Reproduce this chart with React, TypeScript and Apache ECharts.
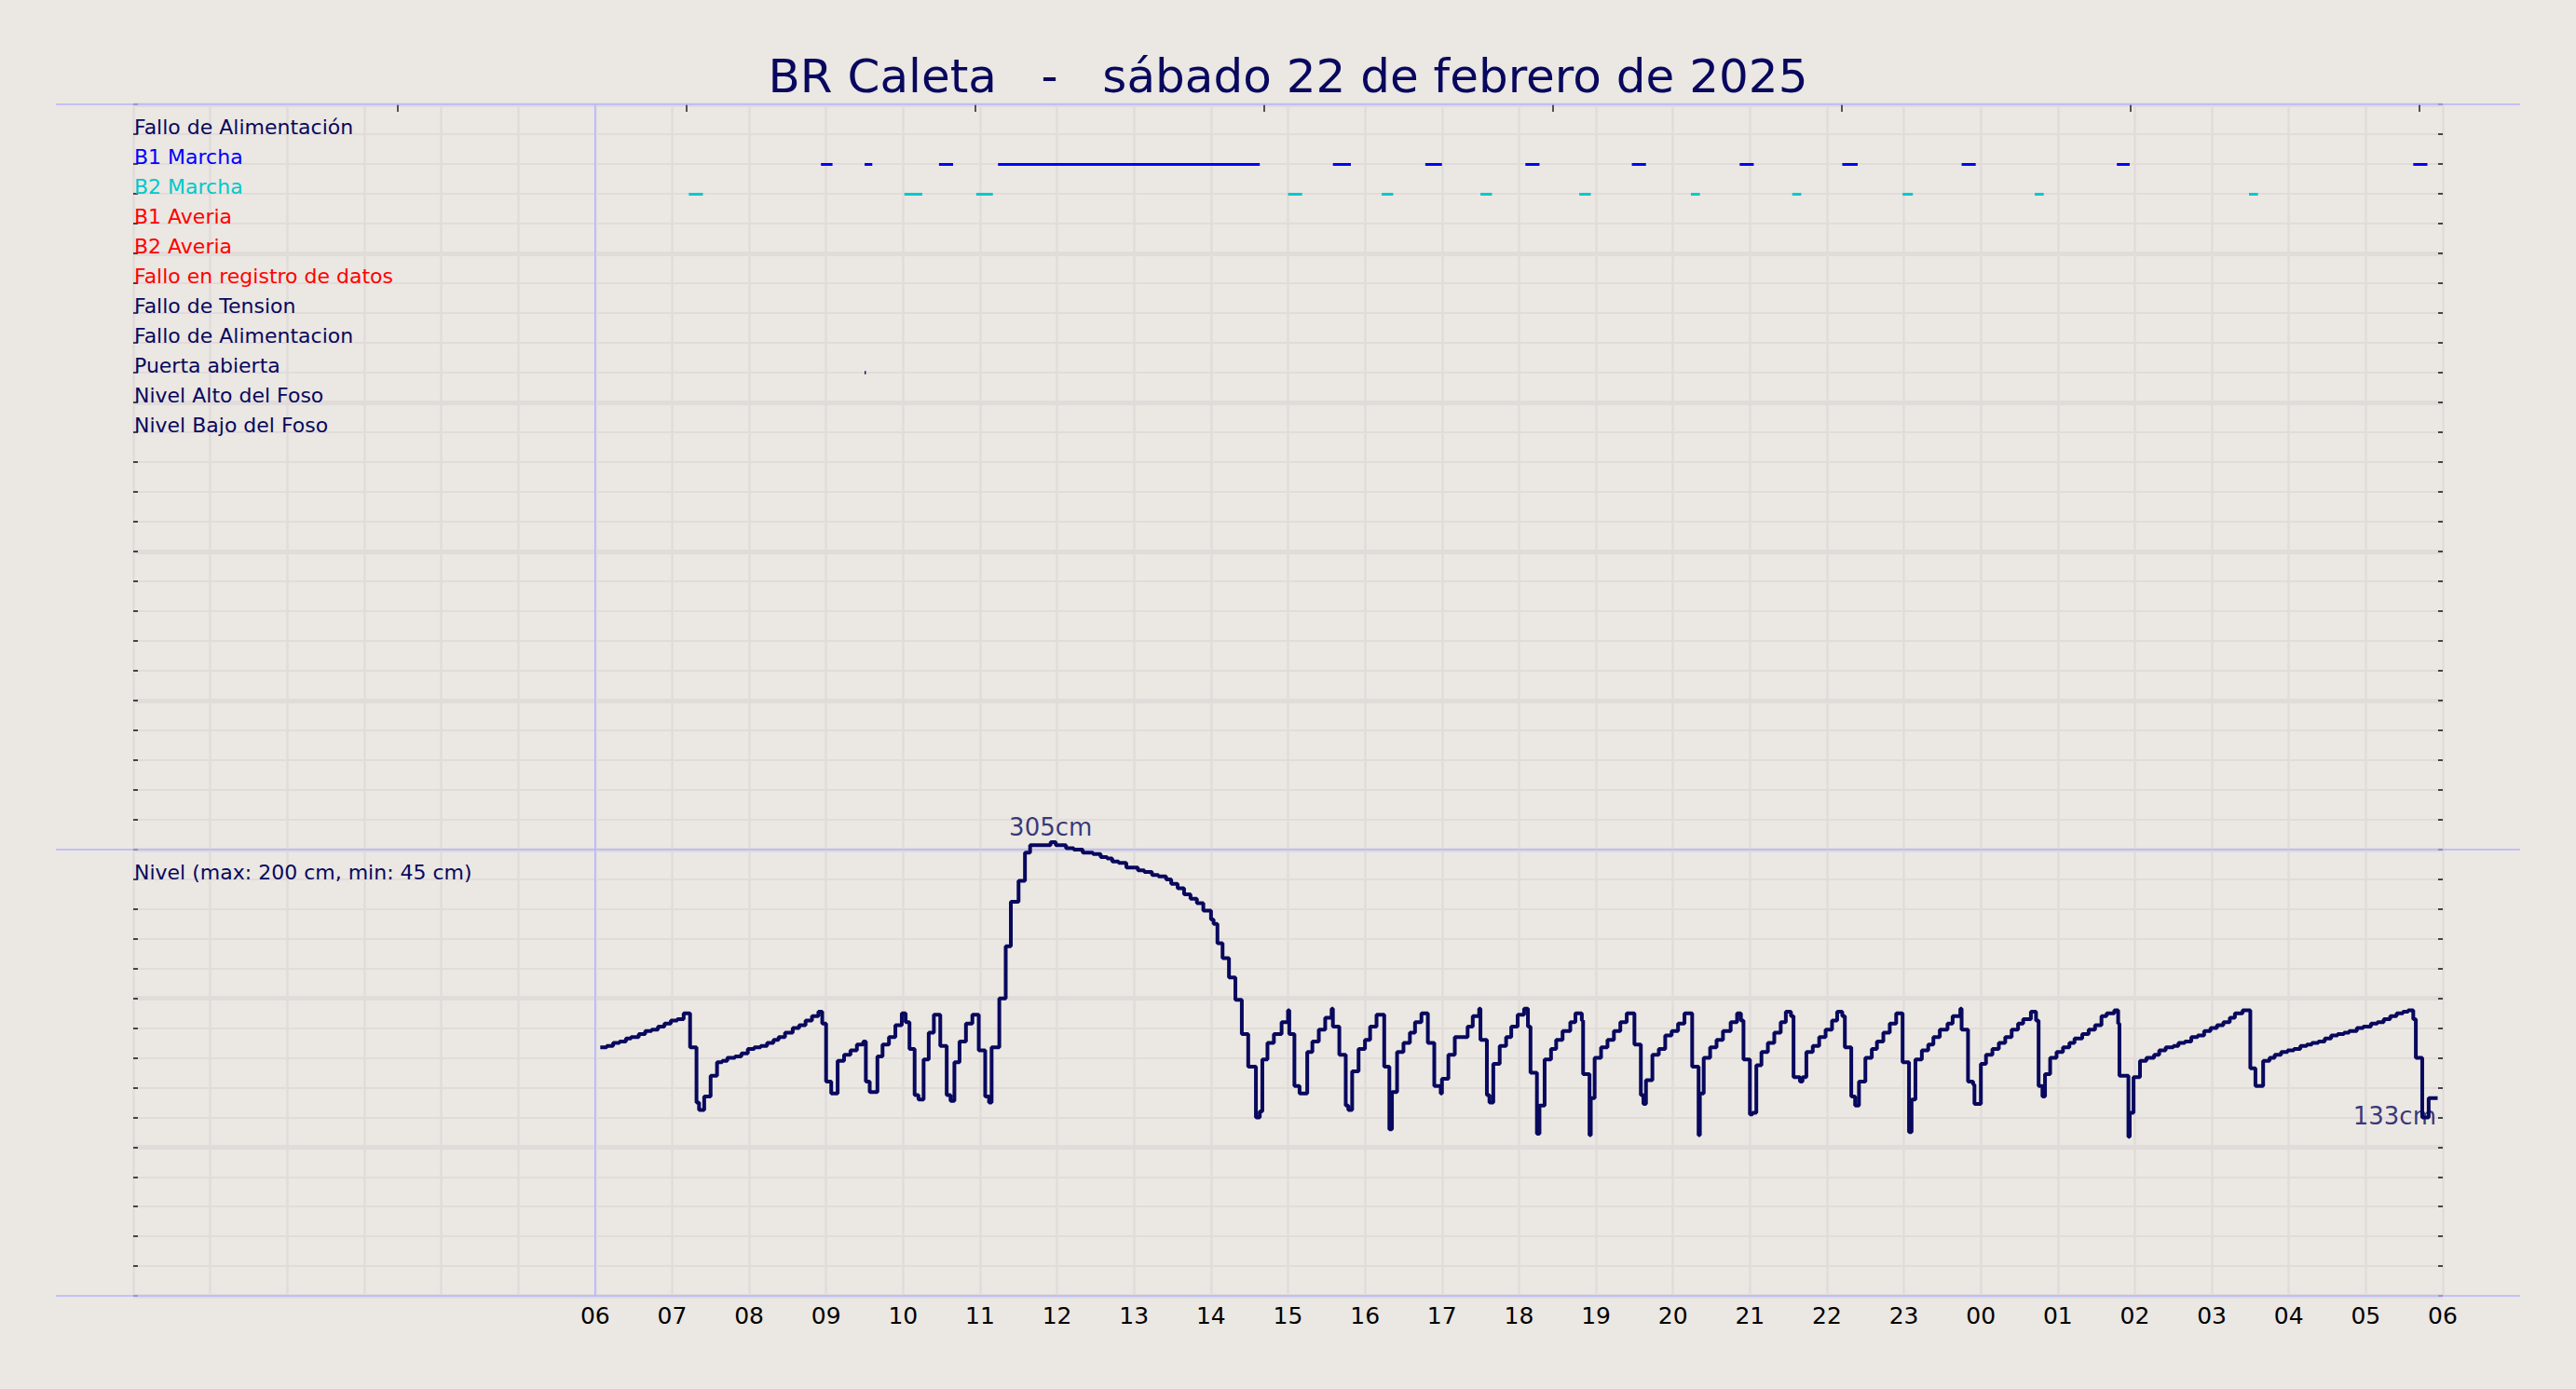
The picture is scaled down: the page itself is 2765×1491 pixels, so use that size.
import React, { useEffect, useRef } from "react";
import * as echarts from "echarts";

const titleText = "BR Caleta   -   sábado 22 de febrero de 2025";

// top panel rows (one per gridline, from the top)
const rowLabels = [
  "Fallo de Alimentación",
  "B1 Marcha",
  "B2 Marcha",
  "B1 Averia",
  "B2 Averia",
  "Fallo en registro de datos",
  "Fallo de Tension",
  "Fallo de Alimentacion",
  "Puerta abierta",
  "Nivel Alto del Foso",
  "Nivel Bajo del Foso",
];
const levelRowLabel = "Nivel (max: 200 cm, min: 45 cm)";

const hourLabels = [
  "06", "07", "08", "09", "10", "11", "12", "13", "14", "15", "16", "17", "18",
  "19", "20", "21", "22", "23", "00", "01", "02", "03", "04", "05", "06",
];

// pump runs and alarms (start, end)
const b1Runs = [
  ["08:56", "09:05"], ["09:30", "09:36"], ["10:28", "10:39"], ["11:14", "14:38"],
  ["15:35", "15:49"], ["16:47", "17:00"], ["18:05", "18:16"], ["19:28", "19:39"],
  ["20:52", "21:03"], ["22:12", "22:24"], ["23:45", "23:56"], ["01:46", "01:56"],
  ["05:37", "05:48"],
];
const b2Runs = [
  ["07:13", "07:24"], ["10:01", "10:15"], ["10:57", "11:10"], ["15:00", "15:11"],
  ["16:13", "16:22"], ["17:30", "17:39"], ["18:47", "18:56"], ["20:14", "20:21"],
  ["21:33", "21:40"], ["22:59", "23:07"], ["00:42", "00:49"], ["03:29", "03:36"],
];
const doorOpen = [["09:30", "09:31"]];

// pit level, cm, at each change
const levelTimes = [
  "06:04", "06:09", "06:14", "06:19", "06:24", "06:28", "06:34", "06:39", "06:44", "06:49",
  "06:54", "06:59", "07:04", "07:09", "07:14", "07:19", "07:21", "07:25", "07:30", "07:35",
  "07:39", "07:43", "07:49", "07:54", "07:59", "08:04", "08:09", "08:14", "08:19", "08:23",
  "08:28", "08:34", "08:39", "08:44", "08:49", "08:54", "08:57", "09:00", "09:04", "09:09",
  "09:14", "09:19", "09:24", "09:29", "09:31", "09:34", "09:40", "09:44", "09:49", "09:54",
  "09:59", "10:02", "10:05", "10:09", "10:12", "10:16", "10:20", "10:24", "10:29", "10:34",
  "10:37", "10:40", "10:44", "10:49", "10:54", "10:59", "11:04", "11:07", "11:09", "11:15",
  "11:20", "11:24", "11:30", "11:35", "11:39", "11:55", "11:59", "12:07", "12:13", "12:20",
  "12:28", "12:34", "12:39", "12:43", "12:48", "12:54", "13:03", "13:08", "13:14", "13:19",
  "13:25", "13:29", "13:34", "13:39", "13:44", "13:49", "13:54", "14:00", "14:02", "14:05",
  "14:09", "14:14", "14:19", "14:24", "14:29", "14:35", "14:38", "14:40", "14:44", "14:49",
  "14:55", "15:00", "15:01", "15:05", "15:09", "15:15", "15:19", "15:24", "15:29", "15:34",
  "15:35", "15:40", "15:45", "15:47", "15:50", "15:55", "16:00", "16:04", "16:09", "16:15",
  "16:19", "16:21", "16:25", "16:30", "16:35", "16:39", "16:44", "16:49", "16:54", "16:59",
  "17:00", "17:05", "17:10", "17:20", "17:24", "17:29", "17:30", "17:35", "17:37", "17:40",
  "17:45", "17:50", "17:54", "17:59", "18:04", "18:07", "18:09", "18:14", "18:16", "18:20",
  "18:25", "18:29", "18:34", "18:40", "18:44", "18:49", "18:50", "18:55", "18:56", "18:59",
  "19:04", "19:09", "19:14", "19:19", "19:24", "19:30", "19:35", "19:37", "19:39", "19:44",
  "19:49", "19:54", "19:59", "20:04", "20:09", "20:15", "20:20", "20:21", "20:24", "20:29",
  "20:34", "20:39", "20:45", "20:50", "20:53", "20:55", "21:00", "21:02", "21:05", "21:09",
  "21:14", "21:19", "21:24", "21:28", "21:32", "21:34", "21:39", "21:41", "21:44", "21:49",
  "21:54", "21:59", "22:04", "22:08", "22:12", "22:14", "22:19", "22:22", "22:25", "22:30",
  "22:35", "22:39", "22:44", "22:49", "22:54", "22:59", "23:04", "23:06", "23:09", "23:14",
  "23:19", "23:23", "23:28", "23:34", "23:38", "23:44", "23:45", "23:50", "23:54", "23:55",
  "00:00", "00:04", "00:09", "00:14", "00:19", "00:24", "00:29", "00:33", "00:39", "00:43",
  "00:45", "00:48", "00:50", "00:54", "00:59", "01:04", "01:09", "01:13", "01:19", "01:24",
  "01:29", "01:34", "01:38", "01:44", "01:47", "01:48", "01:55", "01:56", "01:59", "02:04",
  "02:09", "02:15", "02:19", "02:24", "02:30", "02:34", "02:39", "02:44", "02:49", "02:54",
  "02:59", "03:04", "03:09", "03:14", "03:18", "03:24", "03:30", "03:34", "03:40", "03:45",
  "03:49", "03:54", "03:59", "04:04", "04:09", "04:14", "04:18", "04:23", "04:28", "04:33",
  "04:38", "04:43", "04:47", "04:53", "04:58", "05:04", "05:09", "05:14", "05:19", "05:24",
  "05:29", "05:33", "05:37", "05:39", "05:44", "05:49", "05:56",
];
const levelCm = [
  167, 168, 170, 171, 173, 174, 176, 178, 179, 181,
  183, 185, 186, 190, 167, 130, 125, 134, 148, 157,
  158, 160, 161, 163, 166, 167, 168, 170, 172, 174,
  177, 180, 182, 185, 188, 191, 183, 144, 136, 158,
  162, 165, 169, 171, 144, 137, 161, 169, 174, 182,
  190, 184, 166, 135, 132, 159, 177, 189, 168, 135,
  131, 157, 171, 183, 189, 165, 134, 130, 167, 200,
  235, 265, 279, 298, 303, 305, 303, 301, 300, 298,
  297, 295, 294, 292, 291, 288, 286, 285, 283, 282,
  280, 277, 274, 270, 267, 264, 259, 253, 250, 237,
  227, 214, 199, 176, 154, 120, 124, 159, 170, 176,
  184, 192, 176, 141, 136, 164, 171, 179, 187, 193,
  181, 162, 128, 125, 151, 166, 172, 181, 189, 154,
  112, 137, 164, 170, 177, 184, 190, 170, 141, 136,
  146, 162, 174, 181, 188, 193, 172, 135, 130, 156,
  168, 174, 181, 189, 193, 181, 150, 109, 128, 159,
  166, 172, 178, 184, 190, 185, 149, 108, 133, 160,
  167, 172, 178, 184, 190, 169, 135, 129, 145, 162,
  166, 175, 178, 183, 190, 154, 108, 136, 160, 167,
  172, 178, 184, 190, 185, 159, 122, 123, 155, 164,
  170, 177, 184, 191, 188, 147, 144, 147, 164, 168,
  174, 179, 185, 191, 188, 167, 134, 128, 144, 160,
  166, 171, 177, 183, 190, 157, 110, 132, 159, 165,
  169, 174, 179, 183, 188, 193, 179, 144, 142, 129,
  156, 162, 166, 170, 174, 179, 183, 186, 191, 185,
  141, 134, 149, 160, 164, 167, 170, 173, 176, 179,
  182, 188, 190, 192, 183, 148, 107, 123, 147, 158,
  160, 162, 165, 167, 168, 170, 171, 174, 175, 178,
  180, 182, 184, 187, 190, 192, 153, 141, 158, 160,
  162, 164, 165, 166, 168, 169, 170, 171, 173, 175,
  176, 177, 178, 180, 181, 183, 184, 186, 188, 190,
  191, 192, 186, 160, 120, 133, 133,
];

const NAVY = "#08085e";
const BLUE = "#0000ff";
const CYAN = "#00c8cc";
const RED = "#ff0000";
const PURPLE = "#b4b4ff";
const GRID = "#e1dcda";
const BG = "#ebe7e2";
const FONT = "DejaVu Sans";
const rowColors: Record<string, string> = {
  "B1 Marcha": BLUE,
  "B2 Marcha": CYAN,
  "B1 Averia": RED,
  "B2 Averia": RED,
  "Fallo en registro de datos": RED,
};

// layout of the two panels, px
const PLOT_LEFT = 143;
const PLOT_RIGHT = 2622;
const TOP = 112;
const MID = 912;
const BOTTOM = 1391;

// minutes from 00:00 of the first day; hours before 06 belong to the next day
const toMinutes = (t: string) => {
  const [h, m] = t.split(":").map(Number);
  return (h < 6 ? h + 24 : h) * 60 + m;
};

const hiddenAxis = {
  axisLine: { show: false, onZero: false },
  axisTick: { show: false },
  axisLabel: { show: false },
  splitLine: { show: false },
};

const App: React.FC = () => {
  const chartRef = useRef<HTMLDivElement | null>(null);

  useEffect(() => {
    if (!chartRef.current) return;
    const chart = echarts.init(chartRef.current, undefined, { renderer: "svg" });

    const rowOf = (name: string) => rowLabels.indexOf(name) + 1;
    const runData = (runs: string[][], row: number) =>
      runs.map(([a, b]) => ({ coords: [[toMinutes(a), row], [toMinutes(b), row]] }));

    const levelData = levelTimes.map((t, i) => [toMinutes(t), levelCm[i]]);
    const maxIdx = levelCm.indexOf(Math.max(...levelCm));
    const lastIdx = levelCm.length - 1;

    const rowsAxis = (grid: number, rows: number, labelOf: (v: number) => string) => [
      {
        gridIndex: grid,
        type: "value",
        inverse: true,
        min: 0,
        max: rows,
        interval: 1,
        axisLine: { show: false, onZero: false },
        axisTick: { show: true, inside: true, length: 5, lineStyle: { color: "#111", width: 1.5 } },
        axisLabel: {
          show: true,
          inside: true,
          margin: 1,
          align: "left",
          verticalAlign: "bottom",
          lineHeight: 15,
          fontSize: 22,
          fontFamily: FONT,
          formatter: (v: number) => labelOf(v),
          color: (v: any) => rowColors[labelOf(Number(v))] || NAVY,
        },
        splitLine: { show: true, lineStyle: { color: GRID, width: 2 } },
      },
      {
        gridIndex: grid,
        type: "value",
        inverse: true,
        min: 0,
        max: rows,
        interval: 5,
        ...hiddenAxis,
        splitLine: { show: true, lineStyle: { color: GRID, width: 5 } },
      },
      {
        gridIndex: grid,
        type: "value",
        position: "right",
        inverse: true,
        min: 0,
        max: rows,
        interval: 1,
        ...hiddenAxis,
        axisTick: { show: true, inside: true, length: 5, lineStyle: { color: "#111", width: 1.5 } },
      },
    ];

    const hourAxis = (grid: number, labels: boolean) => ({
      gridIndex: grid,
      type: "value",
      min: 0,
      max: 1800,
      interval: 60,
      axisLine: { show: false, onZero: false },
      axisTick: { show: false },
      axisLabel: {
        show: labels,
        margin: 9,
        fontSize: 25,
        color: "#000",
        fontFamily: FONT,
        formatter: (v: number) => (v >= 360 ? hourLabels[(v - 360) / 60] : ""),
      },
      splitLine: { show: true, lineStyle: { color: GRID, width: 2.5 } },
    });

    const frameLine = (y: number) => ({
      type: "line",
      z: 1,
      silent: true,
      shape: { x1: 60, y1: y, x2: 2705, y2: y },
      style: { stroke: PURPLE, lineWidth: 1.5 },
    });

    const options = {
      animation: false,
      backgroundColor: BG,
      textStyle: { fontFamily: FONT },
      title: {
        text: titleText,
        left: "center",
        top: 52,
        textStyle: { fontSize: 50, fontWeight: "normal", color: NAVY, fontFamily: FONT },
      },
      grid: [
        { left: PLOT_LEFT, top: TOP, width: PLOT_RIGHT - PLOT_LEFT, height: MID - TOP },
        { left: PLOT_LEFT, top: MID, width: PLOT_RIGHT - PLOT_LEFT, height: BOTTOM - MID },
        // thin band just above the top panel, its axis ticks hang down into it
        { left: 427, top: TOP - 12, width: 2170, height: 12 },
      ],
      xAxis: [
        hourAxis(0, false),
        hourAxis(1, true),
        {
          gridIndex: 2,
          type: "value",
          position: "bottom",
          min: 0,
          max: 7,
          interval: 1,
          ...hiddenAxis,
          axisTick: { show: true, inside: false, length: 8, lineStyle: { color: "#222", width: 1.5 } },
        },
      ],
      yAxis: [
        ...rowsAxis(0, 25, (v) => rowLabels[v - 1] || ""),
        ...rowsAxis(1, 15, (v) => (v === 1 ? levelRowLabel : "")),
        { gridIndex: 1, type: "value", min: 0, max: 300, show: false },
        { gridIndex: 2, type: "value", min: 0, max: 1, show: false },
      ],
      graphic: [frameLine(TOP), frameLine(MID), frameLine(BOTTOM)],
      series: [
        {
          name: "Inicio del día",
          type: "line",
          xAxisIndex: 0,
          yAxisIndex: 0,
          data: [[360, 0], [360, 25]],
          showSymbol: false,
          silent: true,
          lineStyle: { color: PURPLE, width: 1.5 },
        },
        {
          name: "Inicio del día (nivel)",
          type: "line",
          xAxisIndex: 1,
          yAxisIndex: 3,
          data: [[360, 0], [360, 15]],
          showSymbol: false,
          silent: true,
          lineStyle: { color: PURPLE, width: 1.5 },
        },
        {
          name: "B1 Marcha",
          type: "lines",
          coordinateSystem: "cartesian2d",
          xAxisIndex: 0,
          yAxisIndex: 0,
          data: runData(b1Runs, rowOf("B1 Marcha")),
          lineStyle: { color: BLUE, width: 3, opacity: 1 },
        },
        {
          name: "B2 Marcha",
          type: "lines",
          coordinateSystem: "cartesian2d",
          xAxisIndex: 0,
          yAxisIndex: 0,
          data: runData(b2Runs, rowOf("B2 Marcha")),
          lineStyle: { color: CYAN, width: 3, opacity: 1 },
        },
        {
          name: "Puerta abierta",
          type: "lines",
          coordinateSystem: "cartesian2d",
          xAxisIndex: 0,
          yAxisIndex: 0,
          data: runData(doorOpen, rowOf("Puerta abierta")),
          lineStyle: { color: NAVY, width: 3.5, opacity: 1 },
        },
        {
          name: "Nivel",
          type: "line",
          step: "end",
          xAxisIndex: 1,
          yAxisIndex: 6,
          data: levelData,
          showSymbol: false,
          clip: false,
          lineStyle: { color: NAVY, width: 4 },
        },
        {
          name: "Nivel notas",
          type: "scatter",
          xAxisIndex: 1,
          yAxisIndex: 6,
          symbolSize: 1,
          clip: false,
          itemStyle: { color: "rgba(0,0,0,0)" },
          silent: true,
          label: {
            show: true,
            fontSize: 26,
            color: NAVY,
            fontFamily: FONT,
            formatter: (p: any) => `${p.value[1]}cm`,
          },
          data: [
            { value: levelData[maxIdx], label: { position: "top", distance: 3 } },
            {
              value: levelData[lastIdx],
              label: { position: [0, 0], align: "right", verticalAlign: "top", offset: [-1, 7] },
            },
          ],
        },
      ],
    };

    chart.setOption(options as any);

    return () => {
      chart.dispose();
    };
  }, []);

  return (
    <div
      ref={chartRef}
      style={{ position: "fixed", left: 0, top: 0, width: "2765px", height: "1491px" }}
    />
  );
};

export default App;
